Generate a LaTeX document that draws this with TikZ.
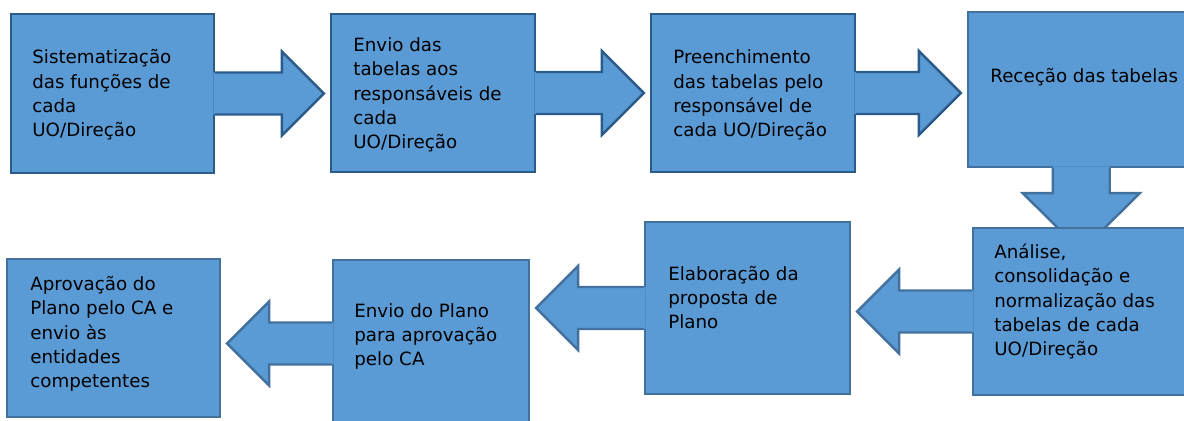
\documentclass[tikz,border=0pt]{standalone}
\usepackage{fontspec}
\setmainfont{DejaVu Sans}
\usetikzlibrary{calc}

\definecolor{boxblue}{HTML}{5B9BD5}
\definecolor{linedark}{HTML}{2B5B8A}
\definecolor{linelight}{HTML}{41719C}

% block arrow sizes
\def\ArShaft{11.95pt}
\def\ArHead{23.9pt}
\def\ArBase{27.3pt}
\def\ArGap{3.4pt}

\tikzset{
  box/.style={draw=#1, fill=boxblue, line width=1.4pt, inner sep=0pt},
  box/.default=linelight,
  txt/.style={anchor=base west, align=left, inner sep=0pt,
    font=\fontsize{10.4}{13.9}\selectfont},
  arline/.style={draw=#1, line width=1.4pt, line join=miter}
}

% arrow pointing right, from the east side of #1 to the west side of #2
\newcommand{\arrowR}[3]{%
  \fill[boxblue] let \p1=(#1.east), \p2=(#2.west) in
    (\x1-1pt,\y1+\ArShaft) -- (\x2-\ArBase,\y1+\ArShaft) -- (\x2-\ArBase,\y1+\ArHead)
    -- (\x2-\ArGap,\y1) -- (\x2-\ArBase,\y1-\ArHead) -- (\x2-\ArBase,\y1-\ArShaft)
    -- (\x1-1pt,\y1-\ArShaft) -- cycle;
  \draw[arline=#3] let \p1=(#1.east), \p2=(#2.west) in
    (\x1,\y1+\ArShaft) -- (\x2-\ArBase,\y1+\ArShaft) -- (\x2-\ArBase,\y1+\ArHead)
    -- (\x2-\ArGap,\y1) -- (\x2-\ArBase,\y1-\ArHead) -- (\x2-\ArBase,\y1-\ArShaft)
    -- (\x1,\y1-\ArShaft);
}
% arrow pointing left, from the west side of #1 to the east side of #2
\newcommand{\arrowL}[3]{%
  \fill[boxblue] let \p1=(#1.west), \p2=(#2.east) in
    (\x1+1pt,\y1+\ArShaft) -- (\x2+\ArBase,\y1+\ArShaft) -- (\x2+\ArBase,\y1+\ArHead)
    -- (\x2+\ArGap,\y1) -- (\x2+\ArBase,\y1-\ArHead) -- (\x2+\ArBase,\y1-\ArShaft)
    -- (\x1+1pt,\y1-\ArShaft) -- cycle;
  \draw[arline=#3] let \p1=(#1.west), \p2=(#2.east) in
    (\x1,\y1+\ArShaft) -- (\x2+\ArBase,\y1+\ArShaft) -- (\x2+\ArBase,\y1+\ArHead)
    -- (\x2+\ArGap,\y1) -- (\x2+\ArBase,\y1-\ArHead) -- (\x2+\ArBase,\y1-\ArShaft)
    -- (\x1,\y1-\ArShaft);
}

\begin{document}
\begin{tikzpicture}[x=0.02cm, y=-0.02cm]
  \useasboundingbox (0,0) rectangle (1184,421);
  \fill[white] (0,0) rectangle (1184,421);
  \clip (0,0) rectangle (1184,421);

  % top row (b4 runs off the right edge)
  \node[box=linedark, minimum width=4.06cm, minimum height=3.18cm] (b1) at (112.5,93.5) {};
  \node[box=linedark, minimum width=4.08cm, minimum height=3.16cm] (b2) at (433,93) {};
  \node[box=linedark, minimum width=4.08cm, minimum height=3.16cm] (b3) at (753,93) {};
  \node[box, minimum width=5.84cm, minimum height=3.10cm] (b4) at (1114,89.5) {};

  \arrowR{b1}{b2}{linedark}
  \arrowR{b2}{b3}{linedark}
  \arrowR{b3}{b4}{linedark}

  % down arrow, its tip hidden under b5
  \coordinate (d1) at ([xshift=2.29cm]b4.south west);
  \fill[boxblue] let \p1=(d1) in
    (\x1-16.2pt,\y1+1pt) -- (\x1-16.2pt,\y1-14.2pt) -- (\x1-33.3pt,\y1-14.2pt)
    -- (\x1,\y1-47.2pt) -- (\x1+33.3pt,\y1-14.2pt) -- (\x1+16.2pt,\y1-14.2pt)
    -- (\x1+16.2pt,\y1+1pt) -- cycle;
  \draw[arline=linelight] let \p1=(d1) in
    (\x1-16.2pt,\y1) -- (\x1-16.2pt,\y1-14.2pt) -- (\x1-33.3pt,\y1-14.2pt)
    -- (\x1,\y1-47.2pt) -- (\x1+33.3pt,\y1-14.2pt) -- (\x1+16.2pt,\y1-14.2pt)
    -- (\x1+16.2pt,\y1);

  % bottom row
  \node[box, minimum width=5.74cm, minimum height=3.34cm] (b5) at (1116.5,311.5) {};
  \node[box, minimum width=4.10cm, minimum height=3.44cm] (b6) at (747.5,308) {};
  \node[box, minimum width=3.92cm, minimum height=3.34cm] (b7) at (431,343.5) {};
  \node[box, minimum width=4.26cm, minimum height=3.16cm] (b8) at (113.5,338) {};

  \arrowL{b5}{b6}{linelight}
  \arrowL{b6}{b7}{linelight}
  \arrowL{b7}{b8}{linelight}

  % texts (base = last line)
  \node[txt] (t1) at (32,137) {Sistematização\\das funções de\\cada\\UO/Direção};
  \node[txt] (t2) at (353,149) {Envio das\\tabelas aos\\responsáveis de\\cada\\UO/Direção};
  \node[txt] (t3) at (673,137) {Preenchimento\\das tabelas pelo\\responsável de\\cada UO/Direção};
  \node[txt] (t4) at (990,83) {Receção das tabelas};
  \node[txt] (t5) at (994,356) {Análise,\\consolidação e\\normalização das\\tabelas de cada\\UO/Direção};
  \node[txt] (t6) at (668,329) {Elaboração da\\proposta de\\Plano};
  \node[txt] (t7) at (354,366) {Envio do Plano\\para aprovação\\pelo CA};
  \node[txt] (t8) at (30,388) {Aprovação do\\Plano pelo CA e\\envio às\\entidades\\competentes};
\end{tikzpicture}
\end{document}
